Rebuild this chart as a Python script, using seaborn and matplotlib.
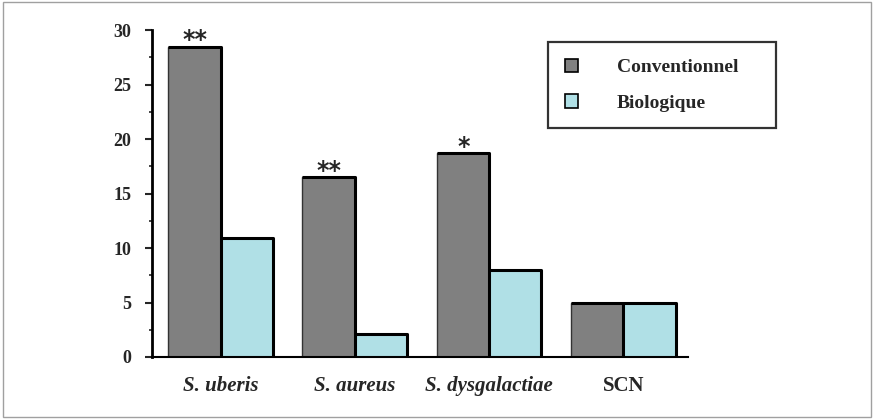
import pandas as pd
import matplotlib.pyplot as plt
import seaborn as sns
from matplotlib.patches import Rectangle
from matplotlib.ticker import MultipleLocator

# Data
species = ['S. uberis', 'S. aureus', 'S. dysgalactiae', 'SCN']
conventionnel = [28.5, 16.5, 18.7, 5.0]
biologique = [10.9, 2.1, 8.0, 5.0]
stars = ['**', '**', '*', '']

data = pd.DataFrame({
    'espece': species * 2,
    'valeur': conventionnel + biologique,
    'groupe': ['Conventionnel'] * 4 + ['Biologique'] * 4,
})

sns.set_style('white')
plt.rcParams['font.family'] = ['Liberation Serif', 'DejaVu Serif']
plt.rcParams['font.weight'] = 'bold'

colors = {'Conventionnel': '#808080', 'Biologique': '#b0e0e6'}

fig = plt.figure(figsize=(8.74, 4.19), dpi=100)
ax = fig.add_axes([0.174, 0.148, 0.613, 0.78])
sns.barplot(data=data, x='espece', y='valeur', hue='groupe', palette=colors,
            saturation=1, width=0.78, edgecolor='#333333', linewidth=1.0,
            legend=False, ax=ax)

# thicker dark edges on top / right like the original drop-shadow look
for p in ax.patches:
    x0, w, h = p.get_x(), p.get_width(), p.get_height()
    if h <= 0:
        continue
    ax.plot([x0, x0 + w, x0 + w], [h, h, 0], color='black', lw=2.2,
            solid_capstyle='butt', zorder=3)

# significance stars above conventional bars
for i, (v, s) in enumerate(zip(conventionnel, stars)):
    if s:
        ax.text(i - 0.19, v - 0.05, s, ha='center', va='baseline',
                fontsize=17, fontweight='bold', family='DejaVu Sans')

ax.set_xlim(-0.51, 3.48)
ax.set_ylim(0, 30)
ax.yaxis.set_major_locator(MultipleLocator(5))
ax.yaxis.set_minor_locator(MultipleLocator(2.5))
ax.tick_params(axis='y', which='major', direction='out', length=5, width=1.5,
               labelsize=13, pad=10, left=True)
ax.tick_params(axis='y', which='minor', direction='out', length=2, width=1.2, left=True)
ax.tick_params(axis='x', length=0, pad=14)
for lab in ax.get_yticklabels():
    lab.set_fontweight('bold')

ax.set_xticks(range(4))
ax.set_xticklabels(species, fontsize=15, fontweight='bold')
for lab in ax.get_xticklabels()[:3]:
    lab.set_fontstyle('italic')
ax.set_xlabel('')
ax.set_ylabel('')

sns.despine(ax=ax)
ax.spines['left'].set_linewidth(2)
ax.spines['left'].set_color('black')
ax.spines['bottom'].set_linewidth(1.5)
ax.spines['bottom'].set_color('black')

# legend
handles = [Rectangle((0, 0), 1, 1, facecolor=colors[g], edgecolor='black', lw=1.2)
           for g in ['Conventionnel', 'Biologique']]
leg = ax.legend(handles, ['Conventionnel', 'Biologique'], loc='upper left',
                bbox_to_anchor=(0.739, 0.963, 0.425, 0), mode='expand',
                frameon=True, fancybox=False,
                handlelength=0.7, handleheight=0.7, handletextpad=2.0,
                labelspacing=0.9, borderpad=0.85, borderaxespad=0,
                prop={'weight': 'bold', 'size': 14})
leg.get_frame().set_edgecolor('black')
leg.get_frame().set_linewidth(1.6)

# thin gray frame around the whole image
fig.patches.append(Rectangle((0.003, 0.005), 0.994, 0.99, transform=fig.transFigure,
                             fill=False, edgecolor='#a0a0a0', lw=1))

fig.savefig('out.png', dpi=100)
